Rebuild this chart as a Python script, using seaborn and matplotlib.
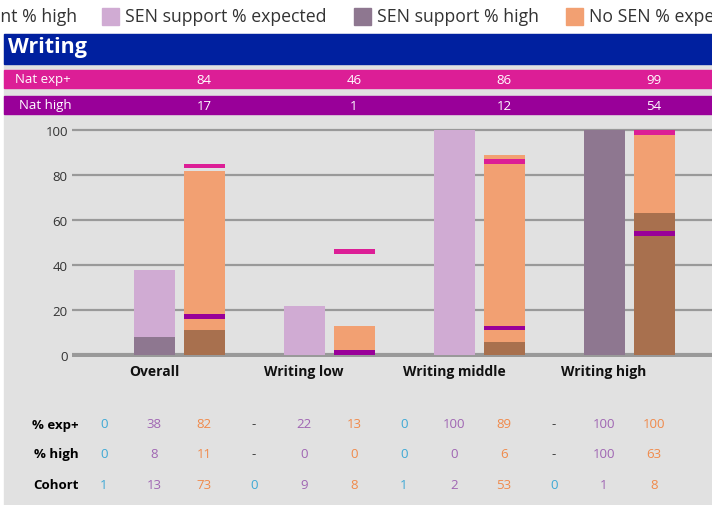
import numpy as np
import pandas as pd
import seaborn as sns
import matplotlib.pyplot as plt
from matplotlib.patches import Rectangle
from matplotlib.transforms import blended_transform_factory

# data
groups = ["Overall", "Writing low", "Writing middle", "Writing high"]
ehc_exp = [0, None, 0, None]
ehc_high = [0, None, 0, None]
ehc_cohort = [1, 0, 1, 0]
sen_exp = [38, 22, 100, 100]
sen_high = [8, 0, 0, 100]
sen_cohort = [13, 9, 2, 1]
nosen_exp = [82, 13, 89, 100]
nosen_high = [11, 0, 6, 63]
nosen_cohort = [73, 8, 53, 8]
nat_exp = [84, 46, 86, 99]
nat_high = [17, 1, 12, 54]

# colours
c_ehc = '#3fa9d5'
c_sen_exp = '#d0abd3'
c_sen_high = '#8e7790'
c_nosen_exp = '#f2a072'
c_nosen_high = '#a8704e'
c_magenta = '#dc1e96'
c_purple = '#990099'
c_banner = '#00209f'
c_panel = '#e1e1e1'
c_grid = '#999999'
txt_ehc = '#3fa9d5'
txt_sen = '#a066b3'
txt_nosen = '#f08a4b'

sns.set_style('white')
plt.rcParams['font.family'] = ['Open Sans', 'DejaVu Sans']

W, H = 712, 506
fig = plt.figure(figsize=(W / 100, H / 100), dpi=100)


def fx(x):
    return x / W


def fy(y):
    return 1 - y / H


# build one row per bar slot
rows = []
for i, g in enumerate(groups):
    rows.append((g + '|ehc', ehc_exp[i] or 0, ehc_high[i] or 0, c_ehc, c_ehc))
    rows.append((g + '|sen', sen_exp[i], sen_high[i], c_sen_exp, c_sen_high))
    rows.append((g + '|nosen', nosen_exp[i], nosen_high[i], c_nosen_exp, c_nosen_high))
df = pd.DataFrame(rows, columns=['slot', 'exp', 'high', 'c_exp', 'c_high'])
slots = list(df['slot'])

# background panel and header
fig.add_artist(Rectangle((fx(4), 0), fx(W - 4), fy(35), transform=fig.transFigure,
                         color=c_panel, zorder=0))
fig.add_artist(Rectangle((fx(4), fy(65)), fx(W - 4), 30 / H, transform=fig.transFigure,
                         color=c_banner, zorder=1))
fig.text(fx(8), fy(48), 'Writing', color='white', fontsize=15.5, fontweight='bold',
         va='center', ha='left')
fig.add_artist(Rectangle((fx(4), fy(89)), fx(W - 4), 18 / H, transform=fig.transFigure,
                         color=c_magenta, zorder=1))
fig.add_artist(Rectangle((fx(4), fy(115)), fx(W - 4), 18 / H, transform=fig.transFigure,
                         color=c_purple, zorder=1))

# main axes
ax = fig.add_axes([fx(72), fy(358.25), fx(W - 72), 240.75 / H])
ax.patch.set_alpha(0)
sns.barplot(data=df, x='slot', y='exp', hue='slot', palette=list(df['c_exp']),
            order=slots, hue_order=slots, width=0.82, legend=False, ax=ax,
            saturation=1, linewidth=0, edgecolor='none', zorder=2)
sns.barplot(data=df, x='slot', y='high', hue='slot', palette=list(df['c_high']),
            order=slots, hue_order=slots, width=0.82, legend=False, ax=ax,
            saturation=1, linewidth=0, edgecolor='none', zorder=3)

# national markers on the No SEN bars
nat_pos = [3 * i + 2 for i in range(len(groups))]
mk = 2.2
ax.bar(nat_pos, mk, bottom=np.array(nat_exp) - mk / 2, width=0.82, color=c_magenta,
       linewidth=0, zorder=4)
ax.bar(nat_pos, mk, bottom=np.array(nat_high) - mk / 2, width=0.82, color=c_purple,
       linewidth=0, zorder=4)

ax.set_ylim(-1, 106)
ax.set_xlim(-0.64, 12.16)
ax.set_yticks([0, 20, 40, 60, 80, 100])
ax.yaxis.grid(True, color=c_grid, lw=1.6)
ax.set_axisbelow(True)
ax.axhline(0, color=c_grid, lw=3, zorder=1)
for s in ax.spines.values():
    s.set_visible(False)
ax.tick_params(axis='y', length=0, pad=3, labelsize=9.5, labelcolor='#333333')
ax.tick_params(axis='x', length=0, pad=5)
ax.set_xticks([3 * i + 1 for i in range(len(groups))])
ax.set_xticklabels(groups, fontsize=10, fontweight='bold', color='#111111')
ax.set_xlabel('')
ax.set_ylabel('')

# national rows
tr = blended_transform_factory(ax.transData, fig.transFigure)
fig.text(fx(15), fy(80), 'Nat exp+', color='white', fontsize=9.5, va='center', ha='left')
fig.text(fx(19), fy(106), 'Nat high', color='white', fontsize=9.5, va='center', ha='left')
for p, v1, v2 in zip(nat_pos, nat_exp, nat_high):
    fig.text(p, fy(80), str(v1), transform=tr, color='white', fontsize=9.5,
             va='center', ha='center')
    fig.text(p, fy(106), str(v2), transform=tr, color='white', fontsize=9.5,
             va='center', ha='center')

# bottom table
row_y = {'% exp+': 425, '% high': 455, 'Cohort': 486}
for lab, y in row_y.items():
    fig.text(fx(79), fy(y), lab, color='black', fontsize=9.5, fontweight='bold',
             va='center', ha='right')
for i in range(len(groups)):
    cols = [(ehc_exp[i], ehc_high[i], ehc_cohort[i], txt_ehc),
            (sen_exp[i], sen_high[i], sen_cohort[i], txt_sen),
            (nosen_exp[i], nosen_high[i], nosen_cohort[i], txt_nosen)]
    for j, (e, h, c, col) in enumerate(cols):
        x = 3 * i + j
        for v, y in [(e, row_y['% exp+']), (h, row_y['% high'])]:
            if v is None:
                fig.text(x, fy(y), '-', transform=tr, color='#333333', fontsize=9.5,
                         va='center', ha='center')
            else:
                fig.text(x, fy(y), str(v), transform=tr, color=col, fontsize=9.5,
                         va='center', ha='center')
        fig.text(x, fy(row_y['Cohort']), str(c), transform=tr, color=col, fontsize=9.5,
                 va='center', ha='center')

# legend (cut off at both sides like the original)
fig.text(fx(77), fy(17), 'SEN statement % high', fontsize=12.7, color='#333333',
         va='center', ha='right')
for x0, col, lab in [(102, c_sen_exp, 'SEN support % expected'),
                     (354, c_sen_high, 'SEN support % high'),
                     (566, c_nosen_exp, 'No SEN % expected')]:
    fig.add_artist(Rectangle((fx(x0), fy(26)), 17 / W, 17 / H, transform=fig.transFigure,
                             color=col))
    fig.text(fx(x0 + 23), fy(17), lab, fontsize=12.7, color='#333333',
             va='center', ha='left')

fig.savefig('out.png', dpi=100)
